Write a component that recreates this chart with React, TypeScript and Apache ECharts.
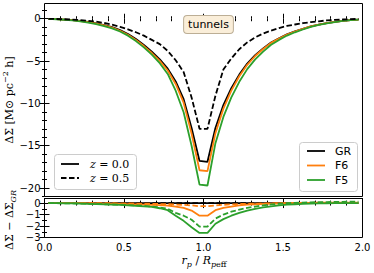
import React, { useEffect, useRef } from 'react';
import * as echarts from 'echarts';

// radial bins r_p / R_p,eff
const X = [
  0.025, 0.075, 0.125, 0.175, 0.225, 0.275, 0.325, 0.375, 0.425, 0.475,
  0.525, 0.575, 0.625, 0.675, 0.725, 0.775, 0.825, 0.875, 0.925, 0.975,
  1.025, 1.075, 1.125, 1.175, 1.225, 1.275, 1.325, 1.375, 1.425, 1.475,
  1.525, 1.575, 1.625, 1.675, 1.725, 1.775, 1.825, 1.875, 1.925, 1.975,
];

// main panel, z = 0.0
const GR_Z0 = [
  -0.02, -0.05, -0.1, -0.17, -0.26, -0.38, -0.55, -0.75, -1.0, -1.35,
  -1.8, -2.4, -3.1, -3.9, -4.8, -5.9, -7.4, -9.5, -12.9, -16.8,
  -16.9, -12.9, -10.2, -8.2, -6.6, -5.3, -4.3, -3.5, -2.8, -2.3,
  -1.85, -1.5, -1.2, -0.9, -0.7, -0.52, -0.38, -0.26, -0.17, -0.1,
];
const F6_Z0 = [
  -0.02, -0.05, -0.1, -0.17, -0.27, -0.4, -0.58, -0.79, -1.05, -1.42,
  -1.89, -2.51, -3.23, -4.05, -4.98, -6.12, -7.7, -9.92, -13.55, -17.9,
  -18.0, -13.52, -10.62, -8.5, -6.8, -5.44, -4.4, -3.57, -2.85, -2.33,
  -1.87, -1.51, -1.21, -0.9, -0.7, -0.52, -0.38, -0.26, -0.17, -0.1,
];
const F5_Z0 = [
  -0.02, -0.06, -0.12, -0.2, -0.31, -0.45, -0.64, -0.86, -1.13, -1.51,
  -2.0, -2.64, -3.38, -4.23, -5.25, -6.52, -8.5, -11.05, -15.0, -19.6,
  -19.7, -14.7, -11.6, -9.3, -7.45, -5.95, -4.8, -3.88, -3.08, -2.5,
  -1.99, -1.6, -1.27, -0.95, -0.73, -0.54, -0.39, -0.26, -0.17, -0.1,
];
// main panel, z = 0.5
const GR_Z05 = [
  -0.01, -0.03, -0.06, -0.1, -0.16, -0.24, -0.34, -0.5, -0.7, -0.95,
  -1.25, -1.6, -2.0, -2.5, -3.0, -3.8, -4.9, -6.3, -9.3, -13.0,
  -13.0, -9.1, -6.0, -4.7, -3.6, -2.8, -2.2, -1.75, -1.4, -1.1,
  -0.85, -0.68, -0.52, -0.4, -0.3, -0.2, -0.14, -0.09, -0.05, -0.02,
];

// lower panel: difference to GR
const DIFF_GR = [
  0, 0, 0, 0, 0, 0, 0, 0, 0, 0,
  0, 0, 0, 0, 0, 0, 0, 0, 0, 0,
  0, 0, 0, 0, 0, 0, 0, 0, 0, 0,
  0, 0, 0, 0, 0, 0, 0, 0, 0, 0,
];
const DIFF_F6_Z0 = [
  0, 0, 0, 0, -0.01, -0.02, -0.03, -0.04, -0.05, -0.07,
  -0.09, -0.11, -0.13, -0.15, -0.18, -0.22, -0.3, -0.42, -0.65, -1.1,
  -1.1, -0.62, -0.42, -0.3, -0.2, -0.14, -0.1, -0.07, -0.05, -0.03,
  -0.02, -0.01, -0.01, 0, 0, 0, 0, 0, 0, 0,
];
const DIFF_F5_Z0 = [
  0, -0.01, -0.02, -0.03, -0.05, -0.07, -0.09, -0.11, -0.13, -0.16,
  -0.2, -0.24, -0.28, -0.33, -0.45, -0.62, -1.1, -1.55, -2.1, -2.6,
  -2.6, -1.8, -1.4, -1.1, -0.85, -0.65, -0.5, -0.38, -0.28, -0.2,
  -0.14, -0.1, -0.07, -0.05, -0.03, -0.02, -0.01, 0, 0, 0,
];
const DIFF_F6_Z05 = [
  0, 0, 0, 0, 0, 0, 0, 0, -0.01, -0.02,
  -0.03, -0.04, -0.05, -0.06, -0.08, -0.1, -0.13, -0.16, -0.2, -0.27,
  -0.27, -0.2, -0.15, -0.11, -0.08, -0.06, -0.04, -0.03, -0.02, -0.01,
  0, 0.01, 0.02, 0.02, 0.03, 0.03, 0.03, 0.03, 0.03, 0.03,
];
const DIFF_F5_Z05 = [
  0, -0.01, -0.02, -0.03, -0.04, -0.06, -0.08, -0.1, -0.12, -0.14,
  -0.17, -0.2, -0.24, -0.3, -0.38, -0.5, -0.85, -1.1, -1.45, -2.05,
  -2.05, -1.35, -1.0, -0.75, -0.58, -0.42, -0.3, -0.2, -0.12, -0.06,
  -0.01, 0.02, 0.04, 0.06, 0.08, 0.09, 0.1, 0.11, 0.12, 0.13,
];

// ticks
const X_MAJOR = [0, 0.5, 1, 1.5, 2];
const X_MINOR = [0.1, 0.2, 0.3, 0.4, 0.6, 0.7, 0.8, 0.9, 1.1, 1.2, 1.3, 1.4, 1.6, 1.7, 1.8, 1.9];
const Y_MAIN_MAJOR = [-20, -15, -10, -5, 0];
const Y_MAIN_MINOR = [-21, -19, -18, -17, -16, -14, -13, -12, -11, -9, -8, -7, -6, -4, -3, -2, -1, 1];
const Y_LOW_MAJOR = [-3, -2, -1, 0];
const Y_LOW_MINOR = [-2.5, -1.5, -0.5];

const Y_MAIN_RANGE = [-21, 1.8];
const Y_LOW_RANGE = [-3, 0.4];

const COLORS = { GR: '#000000', F6: '#ff7f0e', F5: '#2ca02c' };

const pair = (ys: number[]) => X.map((x, i) => [x, ys[i]]);
const minusFmt = (v: number) => (v < 0 ? '\u2212' + Math.abs(v) : String(v));

const TICK_FONT = 'DejaVu Sans';
const MATH_FONT = 'DejaVu Serif';
const LW = 1.8;

function xAxis(grid: number, pos: string, ticks: number[], len: number, labels = false) {
  return {
    type: 'value', gridIndex: grid, position: pos, min: 0, max: 2,
    axisLine: { show: false }, splitLine: { show: false },
    axisTick: { show: true, inside: true, length: len, customValues: ticks, lineStyle: { color: '#000', width: 1 } },
    axisLabel: labels
      ? { show: true, customValues: ticks, margin: 5, fontSize: 10, fontFamily: TICK_FONT, color: '#000', formatter: (v: number) => v.toFixed(1) }
      : { show: false },
  };
}
function yAxis(grid: number, pos: string, range: number[], ticks: number[], len: number, labels = false) {
  return {
    type: 'value', gridIndex: grid, position: pos, min: range[0], max: range[1],
    axisLine: { show: false }, splitLine: { show: false },
    axisTick: { show: true, inside: true, length: len, customValues: ticks, lineStyle: { color: '#000', width: 1 } },
    axisLabel: labels
      ? { show: true, customValues: ticks, margin: 4, fontSize: 10, fontFamily: TICK_FONT, color: '#000', formatter: minusFmt }
      : { show: false },
  };
}

function line(name: string, ys: number[], color: string, xi: number, yi: number, dashed = false, z = 2) {
  return {
    type: 'line', name, data: pair(ys), xAxisIndex: xi, yAxisIndex: yi,
    symbol: 'none', z, silent: true,
    lineStyle: { color, width: LW, type: dashed ? [5.5, 2.5] : 'solid' },
  };
}

const mathRich = {
  r: { fontFamily: MATH_FONT, fontSize: 11, lineHeight: 16, verticalAlign: 'middle', fill: '#000' },
  i: { fontFamily: MATH_FONT, fontSize: 11, fontStyle: 'italic', lineHeight: 16, verticalAlign: 'middle', fill: '#000' },
  sub: { fontFamily: MATH_FONT, fontSize: 8, lineHeight: 16, verticalAlign: 'bottom', fill: '#000' },
  subi: { fontFamily: MATH_FONT, fontSize: 8, fontStyle: 'italic', lineHeight: 16, verticalAlign: 'bottom', fill: '#000' },
  sup: { fontFamily: MATH_FONT, fontSize: 8, lineHeight: 16, verticalAlign: 'top', fill: '#000' },
};

export default function App() {
  const ref = useRef<HTMLDivElement>(null);
  useEffect(() => {
    const chart = echarts.init(ref.current!, null, { renderer: 'svg' });
    const option: any = {
      animation: false,
      backgroundColor: '#ffffff',
      grid: [
        { left: 44.5, top: 3.5, width: 318, height: 193, show: true, borderColor: '#000', borderWidth: 1, backgroundColor: 'transparent' },
        { left: 44.5, top: 198.5, width: 318, height: 39, show: true, borderColor: '#000', borderWidth: 1, backgroundColor: 'transparent' },
      ],
      xAxis: [
        xAxis(0, 'bottom', X_MAJOR, 5),
        xAxis(0, 'bottom', X_MINOR, 2.5),
        xAxis(0, 'top', X_MAJOR, 5),
        xAxis(0, 'top', X_MINOR, 2.5),
        xAxis(1, 'bottom', X_MAJOR, 5, true),
        xAxis(1, 'bottom', X_MINOR, 2.5),
        xAxis(1, 'top', X_MAJOR, 5),
        xAxis(1, 'top', X_MINOR, 2.5),
      ],
      yAxis: [
        yAxis(0, 'left', Y_MAIN_RANGE, Y_MAIN_MAJOR, 5, true),
        yAxis(0, 'left', Y_MAIN_RANGE, Y_MAIN_MINOR, 2.5),
        yAxis(0, 'right', Y_MAIN_RANGE, Y_MAIN_MAJOR, 5),
        yAxis(0, 'right', Y_MAIN_RANGE, Y_MAIN_MINOR, 2.5),
        yAxis(1, 'left', Y_LOW_RANGE, Y_LOW_MAJOR, 5, true),
        yAxis(1, 'left', Y_LOW_RANGE, Y_LOW_MINOR, 2.5),
        yAxis(1, 'right', Y_LOW_RANGE, Y_LOW_MAJOR, 5),
        yAxis(1, 'right', Y_LOW_RANGE, Y_LOW_MINOR, 2.5),
      ],
      series: [
        line('GR', GR_Z0, COLORS.GR, 0, 0, false, 2),
        line('F6', F6_Z0, COLORS.F6, 0, 0, false, 3),
        line('F5', F5_Z0, COLORS.F5, 0, 0, false, 4),
        line('GR z=0.5', GR_Z05, COLORS.GR, 0, 0, true, 5),
        line('GR diff', DIFF_GR, COLORS.GR, 4, 4, false, 2),
        line('GR diff z=0.5', DIFF_GR, COLORS.GR, 4, 4, true, 2),
        line('F6 diff z=0.5', DIFF_F6_Z05, COLORS.F6, 4, 4, true, 3),
        line('F6 diff', DIFF_F6_Z0, COLORS.F6, 4, 4, false, 3),
        line('F5 diff z=0.5', DIFF_F5_Z05, COLORS.F5, 4, 4, true, 4),
        line('F5 diff', DIFF_F5_Z0, COLORS.F5, 4, 4, false, 4),
      ],
      graphic: [
        // annotation box
        {
          type: 'text', x: 208.5, y: 24.5, z: 100,
          style: {
            text: 'tunnels', font: '11px "DejaVu Sans"', fill: '#000', align: 'center', verticalAlign: 'middle',
            backgroundColor: '#faeed9', borderColor: '#bcae95', borderWidth: 1, borderRadius: 3, padding: [3, 4, 3, 4],
          },
        },
        // left legend (line styles)
        {
          type: 'rect', z: 100, shape: { x: 54.5, y: 154.5, width: 82, height: 35, r: 3 },
          style: { fill: 'rgba(255,255,255,0.8)', stroke: '#cccccc', lineWidth: 1 },
        },
        { type: 'line', z: 101, shape: { x1: 61, y1: 164, x2: 79, y2: 164 }, style: { stroke: '#000', lineWidth: LW } },
        { type: 'line', z: 101, shape: { x1: 61, y1: 178, x2: 79, y2: 178 }, style: { stroke: '#000', lineWidth: LW, lineDash: [5.5, 2.5] } },
        {
          type: 'text', z: 101, x: 90, y: 164,
          style: { text: '{i|z} {r|= 0.0}', rich: mathRich, verticalAlign: 'middle', align: 'left' },
        },
        {
          type: 'text', z: 101, x: 90, y: 178,
          style: { text: '{i|z} {r|= 0.5}', rich: mathRich, verticalAlign: 'middle', align: 'left' },
        },
        // right legend (models)
        {
          type: 'rect', z: 100, shape: { x: 299.5, y: 142.5, width: 58, height: 49, r: 3 },
          style: { fill: 'rgba(255,255,255,0.8)', stroke: '#cccccc', lineWidth: 1 },
        },
        { type: 'line', z: 101, shape: { x1: 307, y1: 151, x2: 325, y2: 151 }, style: { stroke: COLORS.GR, lineWidth: LW } },
        { type: 'line', z: 101, shape: { x1: 307, y1: 165.5, x2: 325, y2: 165.5 }, style: { stroke: COLORS.F6, lineWidth: LW } },
        { type: 'line', z: 101, shape: { x1: 307, y1: 180, x2: 325, y2: 180 }, style: { stroke: COLORS.F5, lineWidth: LW } },
        { type: 'text', z: 101, x: 335, y: 151, style: { text: 'GR', font: '11px "DejaVu Sans"', fill: '#000', verticalAlign: 'middle' } },
        { type: 'text', z: 101, x: 335, y: 165.5, style: { text: 'F6', font: '11px "DejaVu Sans"', fill: '#000', verticalAlign: 'middle' } },
        { type: 'text', z: 101, x: 335, y: 180, style: { text: 'F5', font: '11px "DejaVu Sans"', fill: '#000', verticalAlign: 'middle' } },
        // axis titles
        {
          type: 'text', z: 101, x: 9, y: 100, rotation: Math.PI / 2,
          style: { text: '{r|\u0394\u03a3 [M\u2299 pc}{sup|\u22122}{r| h]}', rich: mathRich, align: 'center', verticalAlign: 'middle' },
        },
        {
          type: 'text', z: 101, x: 9, y: 220, rotation: Math.PI / 2,
          style: { text: '{r|\u0394\u03a3 \u2212 \u0394\u03a3}{subi|GR}', rich: mathRich, align: 'center', verticalAlign: 'middle' },
        },
        {
          type: 'text', z: 101, x: 204, y: 260,
          style: { text: '{i|r}{subi|p}{r| / }{i|R}{subi|p}{sub|eff}', rich: mathRich, align: 'center', verticalAlign: 'middle' },
        },
      ],
    };
    chart.setOption(option);
    return () => chart.dispose();
  }, []);
  return <div ref={ref} style={{ position: 'fixed', left: 0, top: 0, width: 374, height: 273 }} />;
}
